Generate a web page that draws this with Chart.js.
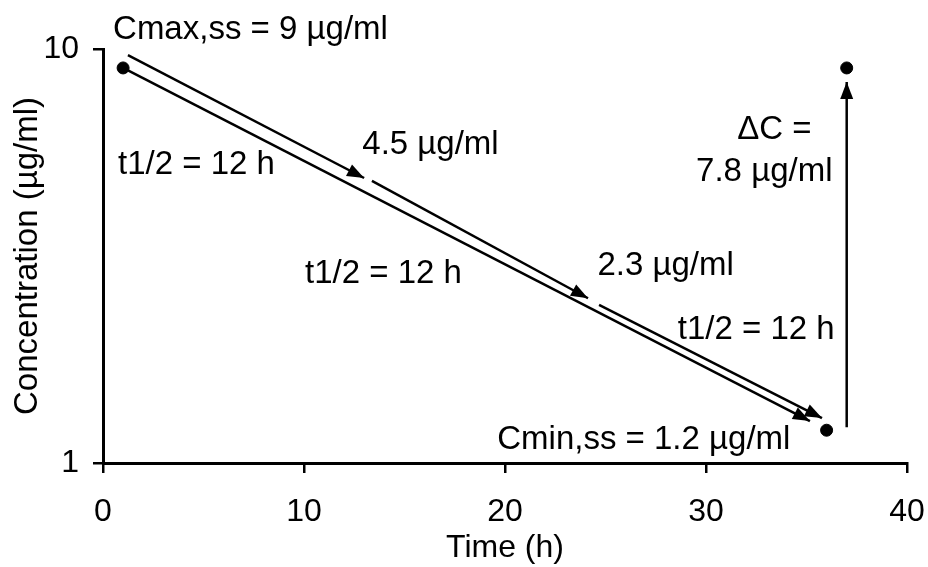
<!DOCTYPE html>
<html>
<head>
<meta charset="utf-8">
<script src="https://cdn.jsdelivr.net/npm/chart.js@4.4.1/dist/chart.umd.min.js"></script>
<style>
  html, body { margin: 0; padding: 0; background: #fff; }
  #wrap { width: 928px; height: 567px; }
</style>
</head>
<body>
<div id="wrap"><canvas id="pkChart"></canvas></div>
<script>
// axis ticks
var timeTicks = [0, 10, 20, 30, 40];
var concTicks = [1, 10];

// measured concentrations (dots)
var doseTimes = [1, 36, 37];
var doseConc = [9, 1.2, 9];

// decay line from Cmax to Cmin
var decayTimes = [1, 35.17];
var decayConc = [9, 1.263];

// half-life arrows drawn above the decay line
var halfLifeTimes = [[1.24, 12.99], [13.38, 24.13], [24.68, 35.77]];
var halfLifeConc = [[9.67, 4.88], [4.80, 2.50], [2.41, 1.284]];

// delta C arrow
var deltaTimes = [37, 37];
var deltaConc = [1.22, 8.32];

// annotation texts and where they sit (data units)
var noteText = ['Cmax,ss = 9 \u00b5g/ml', 't1/2 = 12 h', '4.5 \u00b5g/ml', 't1/2 = 12 h',
                '2.3 \u00b5g/ml', 't1/2 = 12 h', '\u0394C =', '7.8 \u00b5g/ml', 'Cmin,ss = 1.2 \u00b5g/ml'];
var noteTime = [0.5, 0.75, 12.9, 10.05, 24.6, 36.4, 33.4, 32.9, 34.2];
var noteConc = [11.1, 5.25, 5.86, 2.86, 3.0, 2.1, 6.37, 5.05, 1.14];
var noteAlign = ['left', 'left', 'left', 'left', 'left', 'right', 'center', 'center', 'right'];

function pairs(xs, ys) {
    return xs.map(function(x, i) { return { x: x, y: ys[i] }; });
}

function arrowLine(xs, ys) {
    return {
        type: 'line',
        data: pairs(xs, ys),
        borderColor: '#000',
        borderWidth: 2.5,
        pointRadius: 0,
        fill: false,
        arrow: true
    };
}

var datasets = [arrowLine(decayTimes, decayConc)];
halfLifeTimes.forEach(function(xs, i) {
    datasets.push(arrowLine(xs, halfLifeConc[i]));
});
datasets.push(arrowLine(deltaTimes, deltaConc));
datasets.push({
    type: 'scatter',
    data: pairs(doseTimes, doseConc),
    backgroundColor: '#000',
    borderColor: '#000',
    pointRadius: 6
});

var arrowsAndNotes = {
    id: 'arrowsAndNotes',
    afterDatasetsDraw: function(chart) {
        var ctx = chart.ctx;
        ctx.save();
        ctx.fillStyle = '#000';
        chart.data.datasets.forEach(function(ds, i) {
            if (!ds.arrow) return;
            var pts = chart.getDatasetMeta(i).data;
            var a = pts[pts.length - 2], b = pts[pts.length - 1];
            var ang = Math.atan2(b.y - a.y, b.x - a.x);
            ctx.save();
            ctx.translate(b.x, b.y);
            ctx.rotate(ang);
            ctx.beginPath();
            ctx.moveTo(0, 0);
            ctx.lineTo(-17, -6.5);
            ctx.lineTo(-17, 6.5);
            ctx.closePath();
            ctx.fill();
            ctx.restore();
        });
        var xs = chart.scales.x, ys = chart.scales.y;
        ctx.font = '33px "Liberation Sans", Arial, sans-serif';
        ctx.textBaseline = 'middle';
        noteText.forEach(function(t, i) {
            ctx.textAlign = noteAlign[i];
            ctx.fillText(t, xs.getPixelForValue(noteTime[i]), ys.getPixelForValue(noteConc[i]));
        });
        ctx.restore();
    }
};

Chart.defaults.font.family = '"Liberation Sans", Arial, sans-serif';
Chart.defaults.color = '#000';

var ctx = document.getElementById('pkChart').getContext('2d');
var pkChart = new Chart(ctx, {
    data: { datasets: datasets },
    options: {
        responsive: true,
        maintainAspectRatio: false,
        animation: false,
        layout: { padding: { left: 8, right: 21, top: 49, bottom: 0 } },
        plugins: {
            legend: { display: false },
            tooltip: { enabled: false }
        },
        scales: {
            x: {
                type: 'linear',
                min: 0,
                max: 40,
                afterBuildTicks: function(axis) {
                    axis.ticks = timeTicks.map(function(v) { return { value: v }; });
                },
                afterFit: function(axis) {
                    axis.height = 104;
                    axis.paddingLeft = 0;
                    axis.paddingRight = 0;
                },
                ticks: { font: { size: 32 }, padding: 20, maxRotation: 0 },
                grid: { drawOnChartArea: false, drawTicks: true, tickLength: 10, color: '#000', lineWidth: 2.5 },
                border: { display: true, color: '#000', width: 3 },
                title: { display: true, text: 'Time (h)', font: { size: 32 }, padding: { top: 0, bottom: 0 } }
            },
            y: {
                type: 'logarithmic',
                min: 1,
                max: 10,
                afterBuildTicks: function(axis) {
                    axis.ticks = concTicks.map(function(v) { return { value: v }; });
                },
                afterFit: function(axis) { axis.width = 95; },
                ticks: {
                    font: { size: 32 },
                    padding: 14,
                    callback: function(v) { return String(v); }
                },
                grid: { drawOnChartArea: false, drawTicks: true, tickLength: 10, color: '#000', lineWidth: 2.5 },
                border: { display: true, color: '#000', width: 3 },
                title: { display: true, text: 'Concentration (\u00b5g/ml)', font: { size: 33 }, padding: { top: 0, bottom: 0 } }
            }
        }
    },
    plugins: [arrowsAndNotes]
});
</script>
</body>
</html>
